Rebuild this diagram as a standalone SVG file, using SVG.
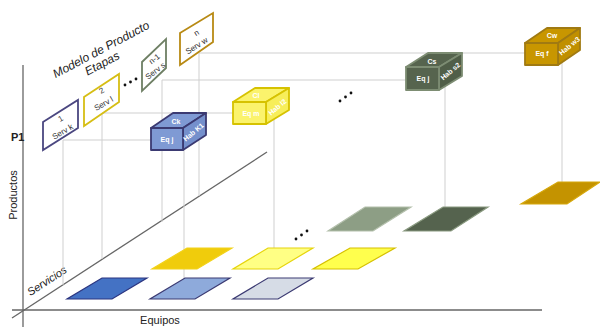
<svg xmlns="http://www.w3.org/2000/svg" width="600" height="327" viewBox="0 0 600 327">
  <style>
    .axis { stroke: #666; stroke-width: 1.3; fill: none; }
    .grid { stroke: #cfcfcf; stroke-width: 1; fill: none; }
    .lbl { font-family: "Liberation Sans", Arial, sans-serif; fill: #222; }
    .stage { fill: #fff; stroke-width: 1.8; }
    .stxt { font-family: "Liberation Sans", Arial, sans-serif; font-size: 8px; fill: #333; text-anchor: middle; }
    .ctxt { font-family: "Liberation Sans", Arial, sans-serif; font-size: 7px; fill: #fff; font-weight: bold; text-anchor: middle; }
    .cube { stroke-width: 1.8; stroke-linejoin: round; }
    .tile { stroke-width: 1.2; }
    .dot { fill: #111; }
  </style>

  <rect width="600" height="327" fill="#fff"/>

  <!-- axes -->
  <g id="axes">
    <line class="axis" x1="23" y1="65" x2="23" y2="327"/>
    <line class="axis" x1="12" y1="310" x2="542" y2="310"/>
    <line class="axis" x1="12" y1="318" x2="267" y2="152"/>
    <text class="lbl" x="11" y="141" font-size="11" font-weight="bold">P1</text>
    <text class="lbl" x="0" y="0" font-size="11" text-anchor="middle" transform="translate(17,195) rotate(-90)">Productos</text>
    <text class="lbl" x="160" y="324" font-size="11" text-anchor="middle">Equipos</text>
    <text class="lbl" x="0" y="0" font-size="11" font-style="italic" text-anchor="middle" transform="translate(49,284) rotate(-33)">Servicios</text>
  </g>

  <!-- projection lines -->
  <g id="connectors">
    <polyline class="grid" points="63,285 63,140 151,140"/>
    <polyline class="grid" points="102,259 102,113 233,113"/>
    <polyline class="grid" points="162,222 162,80 406,80"/>
    <polyline class="grid" points="199,196 199,53 525,53"/>
    <line class="grid" x1="184" y1="150" x2="184" y2="287"/>
    <line class="grid" x1="274" y1="120" x2="274" y2="256"/>
    <line class="grid" x1="445" y1="86" x2="445" y2="213"/>
    <line class="grid" x1="562" y1="62" x2="562" y2="192"/>
  </g>

  <!-- title -->
  <g id="title">
    <text class="lbl" x="0" y="0" font-size="12" font-style="italic" text-anchor="middle" transform="translate(103,53) rotate(-28)">Modelo de Producto</text>
    <text class="lbl" x="0" y="0" font-size="12" font-style="italic" text-anchor="middle" transform="translate(104,67) rotate(-28)">Etapas</text>
  </g>

  <!-- stage boxes -->
  <g id="stage-1">
    <polygon class="stage" stroke="#4b4780" points="43,122 78,100 78,128 43,150"/>
    <text class="stxt" transform="translate(62,121) rotate(-30)">1</text>
    <text class="stxt" transform="translate(64,134) rotate(-30)">Serv k</text>
  </g>
  <g id="stage-2">
    <polygon class="stage" stroke="#d6be14" points="84,97 119,74 119,102 84,126"/>
    <text class="stxt" transform="translate(103,93) rotate(-30)">2</text>
    <text class="stxt" transform="translate(105,106) rotate(-30)">Serv l</text>
  </g>
  <g id="dots-stages">
    <circle class="dot" cx="125" cy="85" r="1.4"/>
    <circle class="dot" cx="130.5" cy="82" r="1.4"/>
    <circle class="dot" cx="136" cy="79" r="1.4"/>
  </g>
  <g id="stage-n-1">
    <polygon class="stage" stroke="#6e7f64" points="142,62 166,39 166,68 142,91"/>
    <text class="stxt" transform="translate(156,61) rotate(-38)">n-1</text>
    <text class="stxt" transform="translate(157,73) rotate(-38)">Serv s</text>
  </g>
  <g id="stage-n">
    <polygon class="stage" stroke="#b88a14" points="180,33 213,13 213,42 180,65"/>
    <text class="stxt" transform="translate(198,35) rotate(-32)">n</text>
    <text class="stxt" transform="translate(198,48) rotate(-32)">Serv w</text>
  </g>

  <!-- floor tiles -->
  <g id="tile-dark-blue">
    <polygon class="tile" fill="#4472c4" stroke="#2b3580" points="67,299 112,299 147,278 102,278"/>
  </g>
  <g id="tile-light-blue">
    <polygon class="tile" fill="#8eaadb" stroke="#3b3a72" points="150,299 195,299 230,278 185,278"/>
  </g>
  <g id="tile-grey-blue">
    <polygon class="tile" fill="#d6dce6" stroke="#3b3a72" points="233,299 278,299 313,278 268,278"/>
  </g>
  <g id="tile-dark-yellow">
    <polygon class="tile" fill="#f0cc0c" stroke="#f2d21a" points="152,269 197,269 232,248 187,248"/>
  </g>
  <g id="tile-light-yellow">
    <polygon class="tile" fill="#ffff84" stroke="#e6d40c" points="233,269 278,269 313,248 268,248"/>
  </g>
  <g id="tile-yellow">
    <polygon class="tile" fill="#ffff4d" stroke="#d6c000" points="313,269 358,269 395,248 350,248"/>
  </g>
  <g id="dots-floor">
    <circle class="dot" cx="296" cy="239" r="1.4"/>
    <circle class="dot" cx="301.5" cy="235" r="1.4"/>
    <circle class="dot" cx="307" cy="231" r="1.4"/>
  </g>
  <g id="tile-grey-green">
    <polygon class="tile" fill="#8d9e85" stroke="#b4c0ac" points="328,231 373,231 411,207 365,207"/>
  </g>
  <g id="tile-dark-green">
    <polygon class="tile" fill="#55634e" stroke="#8a9a80" points="404,231 451,231 488,207 443,207"/>
  </g>
  <g id="tile-gold">
    <polygon class="tile" fill="#c49300" stroke="#d6a80c" points="521,204 567,204 600,182 558,182"/>
  </g>

  <!-- cubes -->
  <g id="cube-ck">
    <polygon class="cube" fill="#7f9ad4" stroke="#3b3a72" points="151,128 173,113 206,113 183,128"/>
    <polygon class="cube" fill="#7590cc" stroke="#3b3a72" points="183,128 206,113 206,135 183,150"/>
    <rect class="cube" fill="#7f9ad4" stroke="#3b3a72" x="151" y="128" width="32" height="22"/>
    <text class="ctxt" x="176" y="124">Ck</text>
    <text class="ctxt" x="167" y="142">Eq j</text>
    <text class="ctxt" transform="translate(195,134) rotate(-40)">Hab K1</text>
  </g>
  <g id="cube-cl">
    <polygon class="cube" fill="#fbf36c" stroke="#d6c200" points="233,102 255,88 289,88 266,102"/>
    <polygon class="cube" fill="#f7ee5a" stroke="#d6c200" points="266,102 289,88 289,110 266,124"/>
    <rect class="cube" fill="#fbf36c" stroke="#d6c200" x="233" y="102" width="33" height="22"/>
    <text class="ctxt" x="256" y="98">Cl</text>
    <text class="ctxt" x="251" y="116">Eq m</text>
    <text class="ctxt" transform="translate(279,109) rotate(-40)">Hab l2</text>
  </g>
  <g id="dots-cubes">
    <circle class="dot" cx="340" cy="101" r="1.4"/>
    <circle class="dot" cx="345.5" cy="97" r="1.4"/>
    <circle class="dot" cx="351" cy="93" r="1.4"/>
  </g>
  <g id="cube-cs">
    <polygon class="cube" fill="#56644e" stroke="#7d8d73" points="406,67 428,53 462,53 439,67"/>
    <polygon class="cube" fill="#505e48" stroke="#7d8d73" points="439,67 462,53 462,76 439,90"/>
    <rect class="cube" fill="#56644e" stroke="#7d8d73" x="406" y="67" width="33" height="23"/>
    <text class="ctxt" x="432" y="64">Cs</text>
    <text class="ctxt" x="423" y="81">Eq j</text>
    <text class="ctxt" transform="translate(452,73) rotate(-40)">Hab s2</text>
  </g>
  <g id="cube-cw">
    <polygon class="cube" fill="#c89600" stroke="#a07a12" points="525,43 547,28 580,28 558,43"/>
    <polygon class="cube" fill="#c08f00" stroke="#a07a12" points="558,43 580,28 580,50 558,65"/>
    <rect class="cube" fill="#c89600" stroke="#a07a12" x="525" y="43" width="33" height="22"/>
    <text class="ctxt" x="552" y="38">Cw</text>
    <text class="ctxt" x="542" y="56">Eq f</text>
    <text class="ctxt" transform="translate(571,48) rotate(-40)">Hab w3</text>
  </g>
</svg>
